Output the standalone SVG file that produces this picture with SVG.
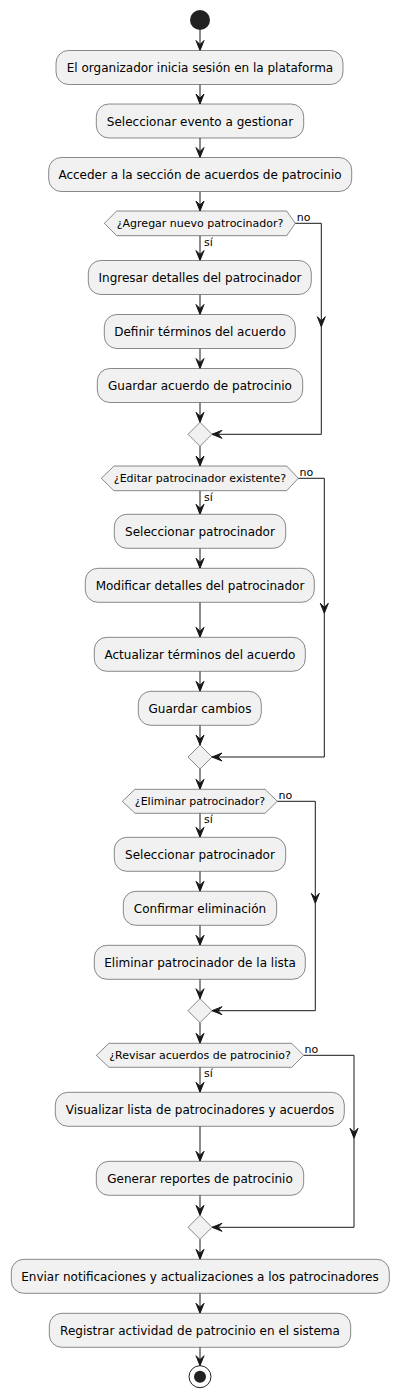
<svg xmlns="http://www.w3.org/2000/svg" width="404" height="1399" viewBox="0 0 404 1399">
<style>
.act rect{fill:#F1F1F1;stroke:#181818;stroke-width:0.5}
.dec polygon{fill:#F1F1F1;stroke:#181818;stroke-width:0.5}
text{font-family:"DejaVu Sans","Noto Sans",sans-serif;fill:#000}
.t{font-size:12px;text-anchor:middle}
.d{font-size:11px;text-anchor:middle}
.l{font-size:11px}
#connectors path{fill:none;stroke:#181818;stroke-width:1;marker-end:url(#arr)}
</style>
<defs>
<marker id="arr" markerUnits="userSpaceOnUse" viewBox="-1 -1 12 10" markerWidth="12" markerHeight="10" refX="10" refY="4" orient="auto">
<path d="M0,0 L10,4 L0,8 L4,4 Z" fill="#181818" stroke="#181818" stroke-width="1"/>
</marker>
</defs>
<rect width="404" height="1399" fill="#FFFFFF"/>
<g id="connectors">
<path d="M200,30 V50.5"/>
<path d="M200,84.5 V104"/>
<path d="M200,138 V157.5"/>
<path d="M200,191.5 V211"/>
<path d="M200,235.7 V260.5"/>
<path d="M200,294.5 V314.5"/>
<path d="M200,348.5 V368.5"/>
<path d="M200,402.5 V422.3"/>
<path d="M295.3,223.3 H321.3 V326.7"/>
<path d="M321.3,326.7 V434.3 H212"/>
<path d="M200,446.3 V466"/>
<path d="M200,490.7 V514.3"/>
<path d="M200,548.3 V568.3"/>
<path d="M200,602.3 V637.3"/>
<path d="M200,671.3 V691.3"/>
<path d="M200,725.3 V745"/>
<path d="M298.3,478.3 H324.3 V613.3"/>
<path d="M324.3,613.3 V757 H212"/>
<path d="M200,769 V789.3"/>
<path d="M200,813.3 V837.3"/>
<path d="M200,871.3 V891.3"/>
<path d="M200,925.3 V945.3"/>
<path d="M200,979.3 V998.7"/>
<path d="M277.3,801.3 H315.3 V903.3"/>
<path d="M315.3,903.3 V1010.7 H212"/>
<path d="M200,1022.7 V1043.3"/>
<path d="M200,1067.3 V1092.3"/>
<path d="M200,1126.3 V1161.3"/>
<path d="M200,1195.3 V1215.3"/>
<path d="M303.7,1055.3 H354 V1138.3"/>
<path d="M354,1138.3 V1227.3 H212"/>
<path d="M200,1239.3 V1259.3"/>
<path d="M200,1293.3 V1313.3"/>
<path d="M200,1347.3 V1365.7"/>
</g>
<g id="start"><circle cx="200" cy="20" r="10" fill="#222222"/></g>
<g id="a1" class="act"><rect x="56" y="50.5" width="287" height="34" rx="12.5"/><text class="t" x="200" y="72">El organizador inicia sesión en la plataforma</text></g>
<g id="a2" class="act"><rect x="96.3" y="104" width="207.4" height="34" rx="12.5"/><text class="t" x="200" y="125.5">Seleccionar evento a gestionar</text></g>
<g id="a3" class="act"><rect x="48.7" y="157.5" width="303" height="34" rx="12.5"/><text class="t" x="200" y="179">Acceder a la sección de acuerdos de patrocinio</text></g>
<g id="d1" class="dec"><polygon points="104.3,223.3 116.7,211 286.7,211 295.3,223.3 286.7,235.7 116.7,235.7"/><text class="d" x="200" y="227.3">¿Agregar nuevo patrocinador?</text><text class="l" x="296.7" y="221">no</text><text class="l" x="204" y="245.5">sí</text></g>
<g id="a4" class="act"><rect x="88.3" y="260.5" width="223" height="34" rx="12.5"/><text class="t" x="200" y="282">Ingresar detalles del patrocinador</text></g>
<g id="a5" class="act"><rect x="104.3" y="314.5" width="191" height="34" rx="12.5"/><text class="t" x="200" y="336">Definir términos del acuerdo</text></g>
<g id="a6" class="act"><rect x="97.3" y="368.5" width="205.4" height="34" rx="12.5"/><text class="t" x="200" y="390">Guardar acuerdo de patrocinio</text></g>
<g id="m1" class="dec"><polygon points="200,422.3 212,434.3 200,446.3 188,434.3"/></g>
<g id="d2" class="dec"><polygon points="101.3,478.3 114,466 286.7,466 298.3,478.3 286.7,490.7 114,490.7"/><text class="d" x="200" y="482.3">¿Editar patrocinador existente?</text><text class="l" x="299.5" y="476">no</text><text class="l" x="204" y="500.5">sí</text></g>
<g id="a7" class="act"><rect x="114.3" y="514.3" width="171.4" height="34" rx="12.5"/><text class="t" x="200" y="535.8">Seleccionar patrocinador</text></g>
<g id="a8" class="act"><rect x="85.3" y="568.3" width="229" height="34" rx="12.5"/><text class="t" x="200" y="589.8">Modificar detalles del patrocinador</text></g>
<g id="a9" class="act"><rect x="94.3" y="637.3" width="211" height="34" rx="12.5"/><text class="t" x="200" y="658.8">Actualizar términos del acuerdo</text></g>
<g id="a10" class="act"><rect x="138.3" y="691.3" width="123" height="34" rx="12.5"/><text class="t" x="200" y="712.8">Guardar cambios</text></g>
<g id="m2" class="dec"><polygon points="200,745 212,757 200,769 188,757"/></g>
<g id="d3" class="dec"><polygon points="122.3,801.3 135,789.3 265,789.3 277.3,801.3 265,813.3 135,813.3"/><text class="d" x="200" y="805.3">¿Eliminar patrocinador?</text><text class="l" x="278.5" y="799">no</text><text class="l" x="204" y="823">sí</text></g>
<g id="a11" class="act"><rect x="114.3" y="837.3" width="171.4" height="34" rx="12.5"/><text class="t" x="200" y="858.8">Seleccionar patrocinador</text></g>
<g id="a12" class="act"><rect x="123.3" y="891.3" width="153.4" height="34" rx="12.5"/><text class="t" x="200" y="912.8">Confirmar eliminación</text></g>
<g id="a13" class="act"><rect x="94.3" y="945.3" width="211" height="34" rx="12.5"/><text class="t" x="200" y="966.8">Eliminar patrocinador de la lista</text></g>
<g id="m3" class="dec"><polygon points="200,998.7 212,1010.7 200,1022.7 188,1010.7"/></g>
<g id="d4" class="dec"><polygon points="96.3,1055.3 109,1043.3 291.7,1043.3 303.7,1055.3 291.7,1067.3 109,1067.3"/><text class="d" x="200" y="1059.3">¿Revisar acuerdos de patrocinio?</text><text class="l" x="304.5" y="1053">no</text><text class="l" x="204" y="1077">sí</text></g>
<g id="a14" class="act"><rect x="55.3" y="1092.3" width="289" height="34" rx="12.5"/><text class="t" x="200" y="1113.8">Visualizar lista de patrocinadores y acuerdos</text></g>
<g id="a15" class="act"><rect x="96.3" y="1161.3" width="207.4" height="34" rx="12.5"/><text class="t" x="200" y="1182.8">Generar reportes de patrocinio</text></g>
<g id="m4" class="dec"><polygon points="200,1215.3 212,1227.3 200,1239.3 188,1227.3"/></g>
<g id="a16" class="act"><rect x="11.3" y="1259.3" width="378" height="34" rx="12.5"/><text class="t" x="200" y="1280.8">Enviar notificaciones y actualizaciones a los patrocinadores</text></g>
<g id="a17" class="act"><rect x="49.3" y="1313.3" width="301.4" height="34" rx="12.5"/><text class="t" x="200" y="1334.8">Registrar actividad de patrocinio en el sistema</text></g>
<g id="end"><circle cx="200" cy="1376.7" r="11" fill="none" stroke="#222222" stroke-width="1"/><circle cx="200" cy="1376.7" r="6" fill="#222222"/></g>
</svg>
